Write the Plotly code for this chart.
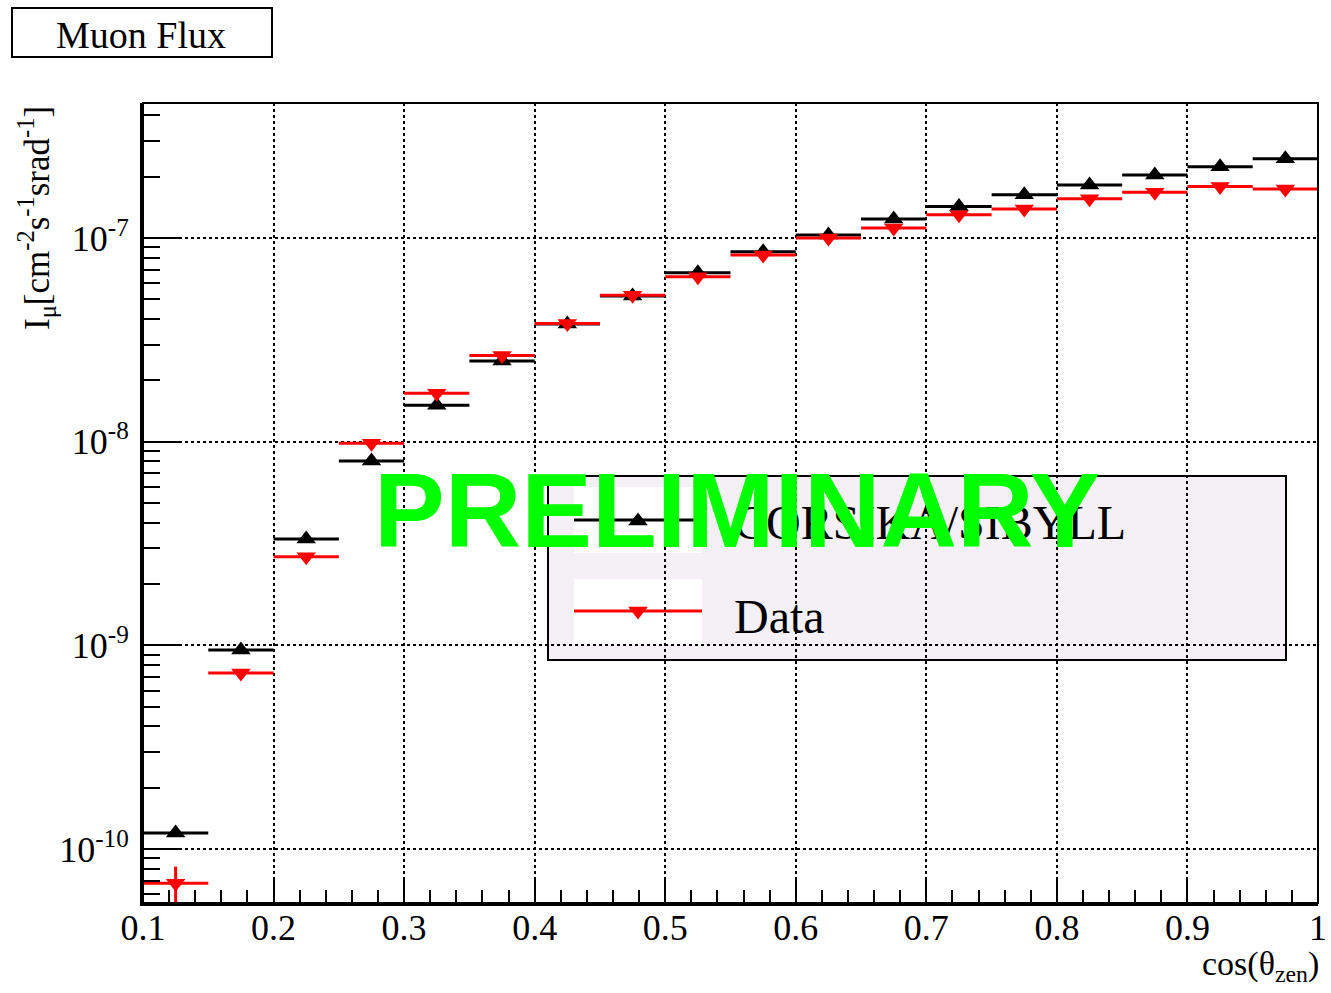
import plotly.graph_objects as go

# ---- data ----
bin_centers = [0.125, 0.175, 0.225, 0.275, 0.325, 0.375, 0.425, 0.475, 0.525,
               0.575, 0.625, 0.675, 0.725, 0.775, 0.825, 0.875, 0.925, 0.975]
bin_half_width = [0.025] * 18
corsika = [1.20e-10, 9.5e-10, 3.33e-9, 8.03e-9, 1.51e-8, 2.49e-8, 3.78e-8, 5.19e-8,
           6.76e-8, 8.57e-8, 1.035e-7, 1.24e-7, 1.43e-7, 1.63e-7, 1.82e-7, 2.04e-7,
           2.24e-7, 2.45e-7]
data_flux = [6.8e-11, 7.31e-10, 2.72e-9, 9.82e-9, 1.73e-8, 2.65e-8, 3.81e-8, 5.23e-8,
             6.46e-8, 8.25e-8, 1.00e-7, 1.12e-7, 1.30e-7, 1.39e-7, 1.56e-7, 1.68e-7,
             1.79e-7, 1.74e-7]
data_err_up = [1.4e-11] + [0] * 17
data_err_down = [2.2e-11] + [0] * 17

x_tickvals = [0.1, 0.2, 0.3, 0.4, 0.5, 0.6, 0.7, 0.8, 0.9, 1.0]
x_ticktext = ["0.1", "0.2", "0.3", "0.4", "0.5", "0.6", "0.7", "0.8", "0.9", "1"]
y_tickvals = [1e-10, 1e-9, 1e-8, 1e-7]
y_ticktext = ["10<sup>-10</sup>", "10<sup>-9</sup>", "10<sup>-8</sup>", "10<sup>-7</sup>"]
y_minor = [m * 10.0 ** e for e in range(-11, -6) for m in range(2, 10)]

W, H = 1331, 993
ML, MR, MT, MB = 143, 13, 103, 90
PW, PH = W - ML - MR, H - MT - MB


def px(x):
    return (x - ML) / PW


def py(y):
    return (H - MB - y) / PH


SERIF = "Liberation Serif, Times New Roman, serif"
MSIZE = 17

fig = go.Figure()

fig.add_trace(go.Scatter(
    x=bin_centers, y=corsika, mode="markers", name="CORSIKA/SIBYLL",
    marker=dict(symbol="triangle-up", size=MSIZE, color="black"),
    error_x=dict(type="data", array=bin_half_width, thickness=3, width=0, color="black"),
    showlegend=False))
fig.add_trace(go.Scatter(
    x=bin_centers, y=data_flux, mode="markers", name="Data",
    marker=dict(symbol="triangle-down", size=MSIZE, color="red"),
    error_x=dict(type="data", array=bin_half_width, thickness=3, width=0, color="red"),
    error_y=dict(type="data", array=data_err_up, arrayminus=data_err_down,
                 thickness=3, width=0, color="red"),
    showlegend=False))

# legend sample markers on an overlay axis in plot-fraction units
fig.add_trace(go.Scatter(
    x=[px(638), px(638)], y=[py(521), py(611)], mode="markers",
    marker=dict(symbol=["triangle-up", "triangle-down"], size=MSIZE, color=["black", "red"]),
    xaxis="x2", yaxis="y2", showlegend=False, hoverinfo="skip", cliponaxis=False))

shapes = []
# legend box
shapes.append(dict(type="rect", xref="paper", yref="paper",
                   x0=px(548), x1=px(1286), y0=py(660), y1=py(476),
                   fillcolor="#f5f0f5", line=dict(color="black", width=2), layer="between"))
for (y0, y1, ly, col) in [(487, 553, 520, "black"), (579, 645, 611, "red")]:
    shapes.append(dict(type="rect", xref="paper", yref="paper",
                       x0=px(574), x1=px(702), y0=py(y1), y1=py(y0),
                       fillcolor="white", line=dict(width=0), layer="between"))
    shapes.append(dict(type="line", xref="paper", yref="paper",
                       x0=px(574), x1=px(702), y0=py(ly), y1=py(ly),
                       line=dict(color=col, width=3), layer="between"))
# frame
shapes.append(dict(type="rect", xref="paper", yref="paper", x0=0, x1=1, y0=0, y1=1,
                   line=dict(color="black", width=2), layer="above"))
# title box
shapes.append(dict(type="rect", xref="paper", yref="paper",
                   x0=px(12), x1=px(272), y0=py(57), y1=py(8),
                   line=dict(color="black", width=2), fillcolor="white", layer="above"))


def ann(text, x, y, size, family=SERIF, color="black", xanchor="center", angle=0):
    return dict(text=text, xref="paper", yref="paper", x=px(x), y=py(y),
                xanchor=xanchor, yanchor="middle", textangle=angle, showarrow=False,
                font=dict(family=family, size=size, color=color))


annotations = [
    ann("Muon Flux", 141, 35, 38),
    ann("CORSIKA/SIBYLL", 732, 522, 48, xanchor="left"),
    ann("Data", 732, 616, 48, xanchor="left"),
    ann("I<sub>μ</sub>[cm<sup>-2</sup>s<sup>-1</sup>srad<sup>-1</sup>]", 36, 218, 35, angle=-90),
    ann("cos(θ<sub>zen</sub>)", 1321, 966, 34, xanchor="right"),
    ann("<b>PRELIMINARY</b>", 737, 510, 106,
        family="Liberation Sans, Arial, sans-serif", color="#00ff00"),
]

fig.update_layout(
    width=W, height=H, margin=dict(l=ML, r=MR, t=MT, b=MB, autoexpand=False),
    paper_bgcolor="white", plot_bgcolor="white",
    shapes=shapes, annotations=annotations, showlegend=False,
    xaxis=dict(range=[0.1, 1.0], tickvals=x_tickvals, ticktext=x_ticktext,
               ticks="inside", ticklen=25, tickwidth=2, tickcolor="black",
               showline=True, linewidth=3, linecolor="black", automargin=False,
               ticklabelstandoff=-9,
               showgrid=True, gridcolor="black", griddash="dot", gridwidth=1.5,
               zeroline=False,
               minor=dict(ticks="inside", ticklen=13, tickwidth=2, tickcolor="black",
                          dtick=0.02, tick0=0.1, showgrid=False),
               tickfont=dict(family=SERIF, size=36, color="black")),
    yaxis=dict(type="log", range=[-10.265, -6.337], tickvals=y_tickvals, ticktext=y_ticktext,
               ticks="inside", ticklen=37, tickwidth=2, tickcolor="black",
               showline=True, linewidth=3, linecolor="black", automargin=False,
               ticklabelstandoff=4,
               showgrid=True, gridcolor="black", griddash="dot", gridwidth=1.5,
               zeroline=False,
               minor=dict(ticks="inside", ticklen=17, tickwidth=2, tickcolor="black",
                          tickvals=y_minor, showgrid=False),
               tickfont=dict(family=SERIF, size=36, color="black")),
    xaxis2=dict(overlaying="x", range=[0, 1], visible=False),
    yaxis2=dict(overlaying="y", range=[0, 1], visible=False),
)

fig.write_html("out.html")
